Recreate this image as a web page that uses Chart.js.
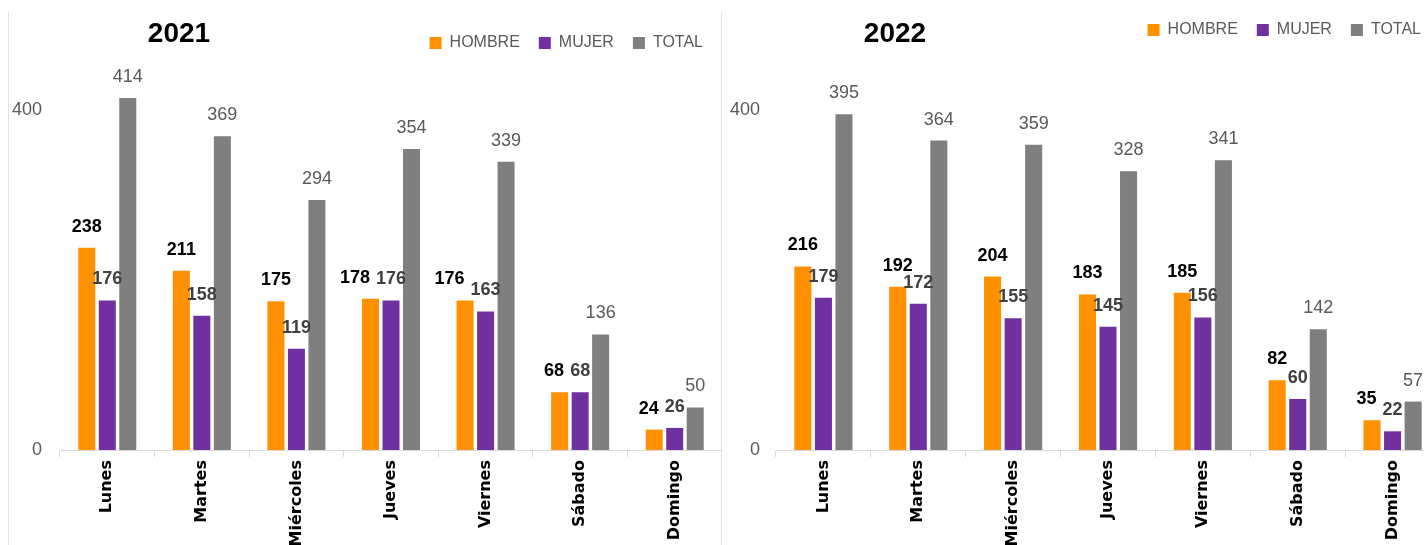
<!DOCTYPE html>
<html>
<head>
<meta charset="utf-8">
<script src="https://cdn.jsdelivr.net/npm/chart.js@4.4.1/dist/chart.umd.min.js"></script>
<style>
  html, body { margin: 0; padding: 0; background: #fff; overflow: hidden; }
  #wrap { position: relative; width: 1424px; height: 545px; overflow: hidden; }
  canvas { position: absolute; top: 0; }
  .title { position: absolute; top: 19px; width: 100px; text-align: center;
           font: bold 28px "Liberation Sans", Arial, sans-serif; line-height: 28px; color: #000; }
  .rule { position: absolute; top: 12px; bottom: 0; width: 1px; background: #e2e2e2; }
</style>
</head>
<body>
<div id="wrap">
  <div class="rule" style="left:8px"></div>
  <div class="rule" style="left:721px"></div>
  <canvas id="chart2021" width="722" height="545" style="left:0"></canvas>
  <canvas id="chart2022" width="722" height="545" style="left:722px"></canvas>
  <div class="title" style="left:129px">2021</div>
  <div class="title" style="left:845px">2022</div>
</div>
<script>
// Data
const days = ['Lunes', 'Martes', 'Miércoles', 'Jueves', 'Viernes', 'Sábado', 'Domingo'];

const hombre2021 = [238, 211, 175, 178, 176, 68, 24];
const mujer2021  = [176, 158, 119, 176, 163, 68, 26];
const total2021  = [414, 369, 294, 354, 339, 136, 50];

const hombre2022 = [216, 192, 204, 183, 185, 82, 35];
const mujer2022  = [179, 172, 155, 145, 156, 60, 22];
const total2022  = [395, 364, 359, 328, 341, 142, 57];

const yTicks = [0, 400];

// Colors
const ORANGE = '#FF9000';
const PURPLE = '#7030A0';
const GREY = '#7F7F7F';
const TEXT_GREY = '#595959';

// both panels share the same vertical scale
const PX_PER_UNIT = 0.85;
const LABEL_GAP = 21;

// Value labels above each bar; HOMBRE label slides left if it would hit the MUJER one
const valueLabels = {
  id: 'valueLabels',
  afterDatasetsDraw(chart) {
    const ctx = chart.ctx;
    const items = chart.data.datasets.map((ds, i) => {
      const meta = chart.getDatasetMeta(i);
      ctx.font = ds.labelFont;
      return meta.data.map((bar, j) => {
        const text = String(ds.data[j]);
        return { text, x: bar.x, y: bar.y - LABEL_GAP, w: ctx.measureText(text).width };
      });
    });

    items[0].forEach((h, j) => {
      const m = items[1][j];
      if (Math.abs(h.y - m.y) < 14) {
        const overlap = (h.x + h.w / 2) - (m.x - m.w / 2) + 6;
        if (overlap > 0) h.x -= overlap;
      }
    });

    chart.data.datasets.forEach((ds, i) => {
      ctx.save();
      ctx.font = ds.labelFont;
      ctx.fillStyle = ds.labelColor;
      ctx.textAlign = 'center';
      ctx.textBaseline = 'middle';
      items[i].forEach(l => ctx.fillText(l.text, l.x, l.y));
      ctx.restore();
    });
  }
};

function makeChart(id, hombre, mujer, total, opts) {
  const ctx = document.getElementById(id).getContext('2d');
  const chart = new Chart(ctx, {
    type: 'bar',
    data: {
      labels: days,
      datasets: [
        { label: 'HOMBRE', data: hombre, backgroundColor: ORANGE,
          labelFont: 'bold 18px "Liberation Sans", Arial, sans-serif', labelColor: '#000' },
        { label: 'MUJER', data: mujer, backgroundColor: PURPLE,
          labelFont: 'bold 18px "Liberation Sans", Arial, sans-serif', labelColor: '#404040' },
        { label: 'TOTAL', data: total, backgroundColor: GREY,
          labelFont: '18px "Liberation Sans", Arial, sans-serif', labelColor: TEXT_GREY }
      ]
    },
    options: {
      responsive: false,
      animation: false,
      categoryPercentage: 0.65,
      barPercentage: 0.83,
      layout: { padding: { top: opts.top, right: opts.right, left: 0, bottom: 0 } },
      plugins: {
        title: { display: false },
        tooltip: { enabled: false },
        legend: {
          position: 'top',
          align: 'end',
          labels: {
            boxWidth: 12,
            boxHeight: 12,
            padding: 19,
            color: TEXT_GREY,
            font: { family: '"Liberation Sans", Arial, sans-serif', size: 16 }
          }
        }
      },
      scales: {
        x: {
          grid: { display: true, drawOnChartArea: false, drawTicks: true, tickLength: 7, color: '#d9d9d9' },
          border: { display: true, color: '#d9d9d9' },
          ticks: {
            color: '#000',
            minRotation: 90,
            maxRotation: 90,
            padding: 3,
            font: { family: '"DejaVu Sans", Verdana, sans-serif', size: 16, weight: 'bold' }
          },
          afterFit(scale) { scale.height = 95; }
        },
        y: {
          min: 0,
          max: 500,
          grid: { display: false, drawTicks: false },
          border: { display: false },
          ticks: {
            padding: opts.tickPad,
            color: TEXT_GREY,
            font: { family: '"Liberation Sans", Arial, sans-serif', size: 18 }
          },
          afterBuildTicks(axis) {
            axis.ticks = yTicks.map(v => ({ value: v }));
          },
          afterFit(scale) { scale.width = opts.yWidth; }
        }
      }
    },
    plugins: [valueLabels]
  });

  // stretch the axis so one unit takes PX_PER_UNIT pixels in both panels
  const area = chart.chartArea;
  chart.options.scales.y.max = (area.bottom - area.top) / PX_PER_UNIT;
  chart.update();
  return chart;
}

makeChart('chart2021', hombre2021, mujer2021, total2021,
  { top: 16, right: 0, yWidth: 60, tickPad: 18 });
makeChart('chart2022', hombre2022, mujer2022, total2022,
  { top: 3, right: 4, yWidth: 54, tickPad: 16 });
</script>
</body>
</html>
